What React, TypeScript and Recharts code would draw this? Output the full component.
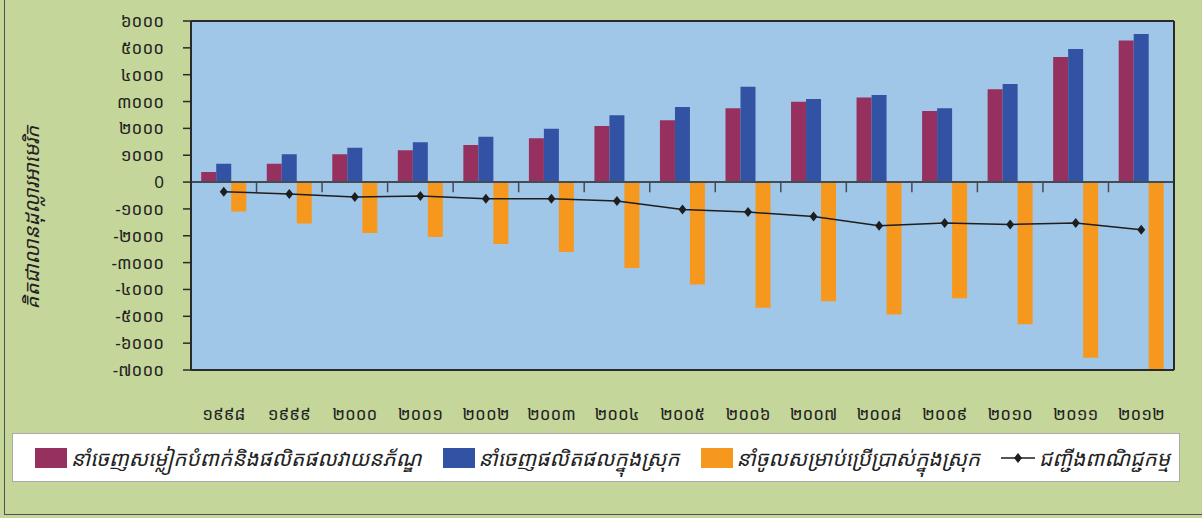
import React from "react";
import { Bar, CartesianGrid, ComposedChart, Legend, Line, ReferenceLine, XAxis, YAxis } from "recharts";

const years = [
  "១៩៩៨", "១៩៩៩", "២០០០", "២០០១", "២០០២", "២០០៣", "២០០៤", "២០០៥",
  "២០០៦", "២០០៧", "២០០៨", "២០០៩", "២០១០", "២០១១", "២០១២",
];
const garmentExports = [373, 686, 1032, 1181, 1379, 1629, 2087, 2300, 2747, 2996, 3146, 2646, 3455, 4659, 5270];
const domesticExports = [686, 1032, 1282, 1480, 1692, 1990, 2486, 2795, 3555, 3094, 3243, 2747, 3653, 4957, 5516];
const retainedImports = [-1092, -1540, -1900, -2050, -2311, -2609, -3205, -3813, -4682, -4435, -4931, -4323, -5292, -6545, -7000];
const tradeBalance = [-358, -447, -559, -522, -619, -619, -708, -1017, -1118, -1278, -1625, -1528, -1577, -1528, -1774];

const yTicks = [6000, 5000, 4000, 3000, 2000, 1000, 0, -1000, -2000, -3000, -4000, -5000, -6000, -7000];
const yTickLabels = [
  "៦០០០", "៥០០០", "៤០០០", "៣០០០", "២០០០", "១០០០", "0",
  "-១០០០", "-២០០០", "-៣០០០", "-៤០០០", "-៥០០០", "-៦០០០", "-៧០០០",
];

const seriesNames = [
  "នាំចេញសម្លៀកបំពាក់និងផលិតផលវាយនភ័ណ្ឌ",
  "នាំចេញផលិតផលក្នុងស្រុក",
  "នាំចូលសម្រាប់ប្រើប្រាស់ក្នុងស្រុក",
  "ជញ្ជីងពាណិជ្ជកម្ម",
];
const yAxisTitle = "គិតជាលានដុល្លារអាមេរិក";

const FONT = "'Noto Sans Khmer', 'Noto Serif Khmer', 'Khmer OS', 'Khmer OS System', 'DejaVu Sans', sans-serif";
const colors = { garment: "#96305F", domestic: "#3253A4", imports: "#F7981E", balance: "#1E1E1E" };

const data = years.map((year, i) => ({
  year,
  garment: garmentExports[i],
  domestic: domesticExports[i],
  imports: retainedImports[i],
  balance: tradeBalance[i],
}));

function Diamond(props: any) {
  const { cx, cy } = props;
  if (cx == null || cy == null) return null;
  return <path d={`M${cx},${cy - 5}L${cx + 4},${cy}L${cx},${cy + 5}L${cx - 4},${cy}Z`} fill={colors.balance} />;
}

function AxisTitle(props: any) {
  const { viewBox } = props;
  const x = viewBox.x + 31;
  const y = viewBox.y + viewBox.height / 2 + 22;
  return (
    <text x={x} y={y} transform={`rotate(-90, ${x}, ${y})`} textAnchor="middle" dominantBaseline="central" fontSize={20.5} fontStyle="italic" fill="#222" fontFamily={FONT}>
      {yAxisTitle}
    </text>
  );
}

function LegendBox(props: any) {
  // keep the series order of the original legend
  const payload = (props.payload || []).slice().sort(
    (a: any, b: any) => seriesNames.indexOf(a.value) - seriesNames.indexOf(b.value)
  );
  return (
    <div style={{ display: "flex", alignItems: "center", height: "100%", paddingLeft: 22, gap: 21, boxSizing: "border-box", fontFamily: FONT, fontSize: 20.8, fontStyle: "italic", color: "#222" }}>
      {payload.map((entry: any) => (
        <div key={entry.value} style={{ display: "flex", alignItems: "center", gap: 4 }}>
          {entry.dataKey === "balance" ? (
            <svg width={34} height={12}>
              <line x1={0} y1={6} x2={34} y2={6} stroke={colors.balance} strokeWidth={1.5} />
              <path d="M17,1L21,6L17,11L13,6Z" fill={colors.balance} />
            </svg>
          ) : (
            <span style={{ display: "inline-block", width: 32, height: 20, background: entry.color }} />
          )}
          <span>{entry.value}</span>
        </div>
      ))}
    </div>
  );
}

export default function App() {
  return (
    <div style={{ position: "absolute", left: 0, top: 0, width: 1202, height: 518, background: "#C5D69B", overflow: "hidden", fontFamily: FONT }}>
      <div style={{ position: "absolute", left: 4, top: -2, width: 1210, height: 517, borderLeft: "1.5px solid #505050", borderBottom: "1.5px solid #505050", boxSizing: "border-box" }} />
      <div style={{ position: "absolute", left: 0, top: 0 }}>
        <ComposedChart width={1202} height={518} data={data} margin={{ top: 21, right: 28, bottom: 98, left: 0 }} barCategoryGap="15.6%" barGap={0}>
          <CartesianGrid fill="#A0C6E8" horizontal={false} vertical={false} />
          <XAxis
            dataKey="year"
            axisLine={false}
            tickLine={false}
            tickSize={0}
            tickMargin={38}
            height={50}
            interval={0}
            tick={{ fontSize: 17, fill: "#222", fontFamily: FONT }}
          />
          <YAxis
            domain={[-7000, 6000]}
            ticks={yTicks}
            interval={0}
            allowDataOverflow
            width={191}
            tickSize={8}
            tickMargin={19}
            axisLine={{ stroke: "#2a2a2a", strokeWidth: 2 }}
            tickLine={{ stroke: "#2a2a2a", strokeWidth: 1.5 }}
            tick={{ fontSize: 17, fill: "#222", fontFamily: FONT }}
            tickFormatter={(v: number) => yTickLabels[yTicks.indexOf(v)] ?? String(v)}
            label={<AxisTitle />}
          />
          <Bar dataKey="garment" name={seriesNames[0]} fill={colors.garment} isAnimationActive={false} />
          <Bar dataKey="domestic" name={seriesNames[1]} fill={colors.domestic} isAnimationActive={false} />
          <Bar dataKey="imports" name={seriesNames[2]} fill={colors.imports} isAnimationActive={false} />
          <ReferenceLine y={0} stroke="#434b54" strokeWidth={2} />
          {years.map((y) => (
            <ReferenceLine key={y} segment={[{ x: y, y: 0 }, { x: y, y: -380 }]} position="start" stroke="#434b54" strokeWidth={1.5} />
          ))}
          <ReferenceLine segment={[{ x: years[years.length - 1], y: 0 }, { x: years[years.length - 1], y: -380 }]} position="end" stroke="#434b54" strokeWidth={1.5} />
          <ReferenceLine y={6000} stroke="#2a2a2a" strokeWidth={2} />
          <ReferenceLine y={-7000} stroke="#2a2a2a" strokeWidth={2} />
          <ReferenceLine x={years[years.length - 1]} position="end" stroke="#2a2a2a" strokeWidth={2} />
          <Line
            dataKey="balance"
            name={seriesNames[3]}
            stroke={colors.balance}
            strokeWidth={1.5}
            dot={<Diamond />}
            activeDot={false}
            legendType="diamond"
            isAnimationActive={false}
          />
          <Legend
            layout="vertical"
            align="center"
            verticalAlign="middle"
            content={<LegendBox />}
            wrapperStyle={{ left: 12, top: 433, width: 1168, height: 49, background: "#fff", border: "1px solid #A9A9A9", boxSizing: "border-box" }}
          />
        </ComposedChart>
      </div>
    </div>
  );
}
